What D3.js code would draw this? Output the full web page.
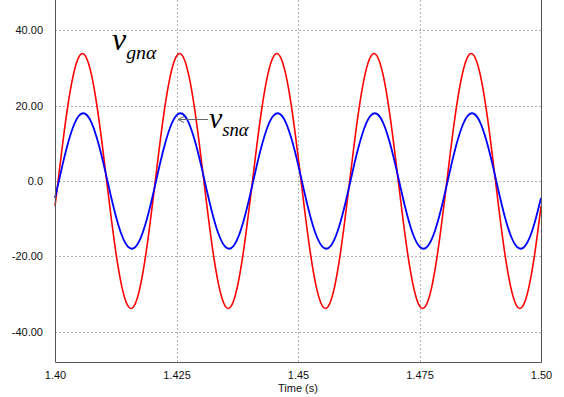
<!DOCTYPE html>
<html lang="en">
<head>
  <meta charset="UTF-8">
  <title>vgn vsn</title>
  <script src="https://cdn.jsdelivr.net/npm/d3@7"></script>
  <style>
    body { margin: 0; background: #fff; }
  </style>
</head>
<body>
  <svg width="564" height="397"></svg>
  <script>
    // time axis samples (s), every 1.25 ms
    var tStart = 1.40, tStep = 0.00125
    var xTicks = [1.40, 1.425, 1.45, 1.475, 1.50]
    var xTickLabels = ['1.40', '1.425', '1.45', '1.475', '1.50']
    var yTicks = [40, 20, 0, -20, -40]
    var yTickLabels = ['40.00', '20.00', '0.0', '-20.00', '-40.00']

    // v_gn alpha (red)
    var vgn = [
      -6.7, 6.5, 18.7, 28.0, 33.1, 33.2, 28.2, 18.9, 6.7, -6.5, -18.7, -28.0, -33.1, -33.2, -28.2, -18.9,
      -6.7, 6.5, 18.7, 28.0, 33.1, 33.2, 28.2, 18.9, 6.7, -6.5, -18.7, -28.0, -33.1, -33.2, -28.2, -18.9,
      -6.7, 6.5, 18.7, 28.0, 33.1, 33.2, 28.2, 18.9, 6.7, -6.5, -18.7, -28.0, -33.1, -33.2, -28.2, -18.9,
      -6.7, 6.5, 18.7, 28.0, 33.1, 33.2, 28.2, 18.9, 6.7, -6.5, -18.7, -28.0, -33.1, -33.2, -28.2, -18.9,
      -6.7, 6.5, 18.7, 28.0, 33.1, 33.2, 28.2, 18.9, 6.7, -6.5, -18.7, -28.0, -33.1, -33.2, -28.2, -18.9,
      -6.7
    ]
    // v_sn alpha (blue)
    var vsn = [
      -4.5, 2.6, 9.2, 14.4, 17.4, 17.8, 15.5, 10.8, 4.5, -2.6, -9.2, -14.4, -17.4, -17.8, -15.5, -10.8,
      -4.5, 2.6, 9.2, 14.4, 17.4, 17.8, 15.5, 10.8, 4.5, -2.6, -9.2, -14.4, -17.4, -17.8, -15.5, -10.8,
      -4.5, 2.6, 9.2, 14.4, 17.4, 17.8, 15.5, 10.8, 4.5, -2.6, -9.2, -14.4, -17.4, -17.8, -15.5, -10.8,
      -4.5, 2.6, 9.2, 14.4, 17.4, 17.8, 15.5, 10.8, 4.5, -2.6, -9.2, -14.4, -17.4, -17.8, -15.5, -10.8,
      -4.5, 2.6, 9.2, 14.4, 17.4, 17.8, 15.5, 10.8, 4.5, -2.6, -9.2, -14.4, -17.4, -17.8, -15.5, -10.8,
      -4.5
    ]

    var svg = d3.select('svg')
    var mLeft = 55, mRight = 541, mTop = 0, mBottom = 362
    var sans = '"Liberation Sans", Arial, sans-serif'

    var x = d3.scaleLinear().domain([1.40, 1.50]).range([mLeft, mRight])
    var y = d3.scaleLinear().domain([-48, 48]).range([mBottom, mTop])

    // grid
    var grid = svg.append('g')
      .attr('stroke', '#b4b4b4')
      .attr('stroke-width', 1)
      .attr('stroke-dasharray', '2,2')
    grid.selectAll('.hg')
      .data(yTicks)
      .enter()
      .append('line')
      .attr('x1', mLeft).attr('x2', mRight)
      .attr('y1', d => Math.round(y(d)) + 0.5).attr('y2', d => Math.round(y(d)) + 0.5)
    grid.selectAll('.vg')
      .data(xTicks.slice(1, -1))
      .enter()
      .append('line')
      .attr('y1', mTop).attr('y2', mBottom)
      .attr('x1', d => Math.round(x(d)) + 0.5).attr('x2', d => Math.round(x(d)) + 0.5)

    // curves
    var line = d3.line()
      .x((d, i) => x(tStart + i * tStep))
      .y(d => y(d))
      .curve(d3.curveNatural)

    var plot = svg.append('g')
    plot.append('path')
      .attr('d', line(vgn))
      .attr('fill', 'none')
      .attr('stroke', '#ff0000')
      .attr('stroke-width', 1.6)
    plot.append('path')
      .attr('d', line(vsn))
      .attr('fill', 'none')
      .attr('stroke', '#0000ff')
      .attr('stroke-width', 1.8)

    // frame
    svg.append('path')
      .attr('d', `M${mLeft + 0.5},${mTop}V${mBottom + 0.5}H${mRight + 0.5}V${mTop}`)
      .attr('fill', 'none')
      .attr('stroke', '#555')
      .attr('stroke-width', 1)

    // axes labels (no tick marks in the reference)
    var yAxis = d3.axisLeft(y).tickValues(yTicks)
      .tickFormat((d, i) => yTickLabels[i]).tickSize(0).tickPadding(12)
    svg.append('g')
      .attr('transform', `translate(${mLeft},0)`)
      .call(yAxis)
      .call(g => g.select('.domain').remove())
      .selectAll('text')
      .attr('font-size', 11)
      .attr('font-family', sans)
      .attr('fill', '#111')

    var xAxis = d3.axisBottom(x).tickValues(xTicks)
      .tickFormat((d, i) => xTickLabels[i]).tickSize(0).tickPadding(9)
    svg.append('g')
      .attr('transform', `translate(0,${mBottom})`)
      .call(xAxis)
      .call(g => g.select('.domain').remove())
      .selectAll('text')
      .attr('font-size', 11)
      .attr('font-family', sans)
      .attr('fill', '#111')

    svg.append('text')
      .attr('x', (mLeft + mRight) / 2)
      .attr('y', 392)
      .attr('text-anchor', 'middle')
      .attr('font-size', 11)
      .attr('font-family', sans)
      .attr('fill', '#111')
      .text('Time (s)')

    // series labels
    function mathLabel(px, py, main, sub, size) {
      var t = svg.append('text')
        .attr('x', px).attr('y', py)
        .attr('font-family', '"Liberation Serif", "Times New Roman", serif')
        .attr('font-style', 'italic')
        .attr('font-size', size)
        .attr('fill', '#000')
      t.append('tspan').text(main)
      t.append('tspan')
        .attr('dy', size * 0.27)
        .attr('font-size', size * 0.62)
        .text(sub)
    }
    mathLabel(112, 50, 'v', 'gnα', 32)
    mathLabel(209, 128, 'v', 'snα', 30)

    // arrow to blue curve
    svg.append('line')
      .attr('x1', 208).attr('y1', 119.5)
      .attr('x2', 178).attr('y2', 119.5)
      .attr('stroke', '#666')
      .attr('stroke-width', 1)
    svg.append('path')
      .attr('d', 'M184,116.5L178,119.5L184,122.5')
      .attr('fill', 'none')
      .attr('stroke', '#666')
      .attr('stroke-width', 1)
  </script>
</body>
</html>
